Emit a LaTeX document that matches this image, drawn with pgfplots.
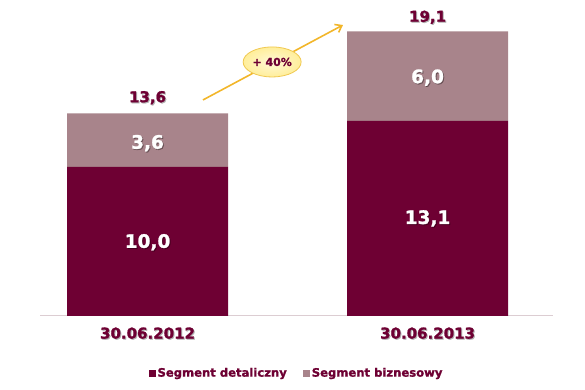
\documentclass[border=0pt]{standalone}
\usepackage{pgfplots}
\pgfplotsset{compat=1.18}
\usepackage{fontspec}
\setmainfont{DejaVu Sans}[BoldFeatures={FakeBold=1.3}]
\usetikzlibrary{shapes.geometric,arrows.meta}
\definecolor{maroon}{HTML}{6E0033}
\definecolor{rose}{HTML}{A8848B}
\definecolor{axisl}{HTML}{DCCDD2}
\definecolor{arrowy}{HTML}{F2B62A}
\definecolor{ellfill}{HTML}{FFEE9A}
\definecolor{ellborder}{HTML}{F0C850}
\begin{document}
\begin{tikzpicture}[x=1pt,y=1pt]
\path[use as bounding box] (0,0) rectangle (585,390);
\begin{axis}[
  at={(40pt,74pt)}, anchor=south west,
  scale only axis, width=513pt, height=312.9pt,
  xmin=-0.384, xmax=1.448, ymin=0, ymax=21,
  ybar stacked, bar width=0.575,
  axis y line=none, axis x line*=bottom,
  x axis line style={axisl, line width=1pt, -},
  xtick={0,1}, xticklabels={,},
  major tick length=0pt,
  clip=false,
  legend columns=2,
  legend style={draw=none, at={(0.5,0)}, anchor=center, yshift=-57pt,
    font=\bfseries\fontsize{11.6}{14}\selectfont, text=maroon,
    /tikz/every even column/.append style={column sep=14pt}},
  legend image code/.code={\fill[#1] (2pt,-4pt) rectangle (9pt,3pt);},
]
\addplot[fill=maroon, draw=none] coordinates {(0,10.0) (1,13.1)};
\addlegendentry{Segment detaliczny}
\addplot[fill=rose, draw=none] coordinates {(0,3.6) (1,6.0)};
\addlegendentry{Segment biznesowy}

\coordinate (l1) at (axis cs:0,4.95);
\coordinate (l2) at (axis cs:0,11.6);
\coordinate (l3) at (axis cs:1,6.55);
\coordinate (l4) at (axis cs:1,16.0);
\coordinate (t1) at (axis cs:0,14.65);
\coordinate (t2) at (axis cs:1,20.05);
\coordinate (x1) at (axis cs:0,-1.15);
\coordinate (x2) at (axis cs:1,-1.15);
\coordinate (a1) at (axis cs:0.198,14.5);
\coordinate (a2) at (axis cs:0.698,19.53);
\coordinate (e1) at (axis cs:0.445,17.05);
\end{axis}
\foreach \p/\t in {l1/{10,0}, l2/{3,6}, l3/{13,1}, l4/{6,0}} {
  \node[text=black, opacity=0.3, font=\bfseries\fontsize{18.5}{22}\selectfont] at ([xshift=1pt,yshift=-1pt]\p) {\t};
  \node[text=white, font=\bfseries\fontsize{18.5}{22}\selectfont] at (\p) {\t};
}
\foreach \p/\t in {t1/{13,6}, t2/{19,1}} {
  \node[text=black!30, font=\bfseries\fontsize{15}{18}\selectfont] at ([xshift=1pt,yshift=-1pt]\p) {\t};
  \node[text=maroon, font=\bfseries\fontsize{15}{18}\selectfont] at (\p) {\t};
}
\foreach \p/\t in {x1/{30.06.2012}, x2/{30.06.2013}} {
  \node[text=black!30, font=\bfseries\fontsize{15}{18}\selectfont] at ([xshift=1pt,yshift=-1pt]\p) {\t};
  \node[text=maroon, font=\bfseries\fontsize{15}{18}\selectfont] at (\p) {\t};
}
\draw[arrowy, line width=1.6pt, -{Straight Barb[length=6pt,width=9pt]}] (a1) -- (a2);
\node[ellipse, draw=ellborder, line width=0.8pt, inner color=ellfill!40!white, outer color=ellfill, minimum width=58pt, minimum height=30pt, inner sep=0pt, text=maroon, font=\bfseries\fontsize{11}{13}\selectfont] at (e1) {+ 40\%};
\end{tikzpicture}
\end{document}
